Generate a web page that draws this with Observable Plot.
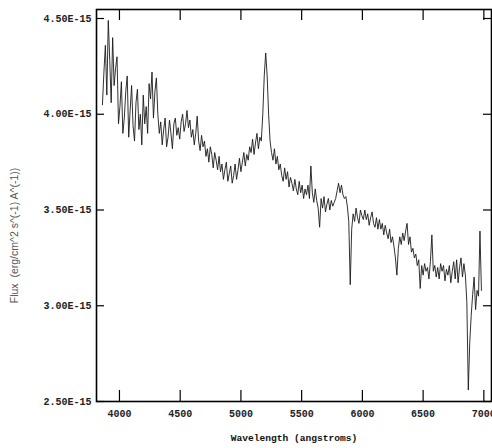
<!DOCTYPE html>
<html>
<head>
<meta charset="utf-8">
<script src="https://cdn.jsdelivr.net/npm/d3@7"></script>
<script src="https://cdn.jsdelivr.net/npm/@observablehq/plot@0.6"></script>
<style>
  html, body { margin: 0; padding: 0; background: #fff; }
  #chart { width: 492px; height: 448px; }
</style>
</head>
<body>
<div id="chart"></div>
<script>
// Sampling grid of the spectrum (start wavelength and step, angstroms)
const lambdaStart = 3860;
const lambdaStep = 12;

// Flux values in units of 1E-15 erg/cm^2/s/A
const flux = [
  4.05, 4.22, 4.36, 4.10, 4.49, 4.28, 4.06, 4.40, 4.15, 4.24,
  4.30, 3.95, 4.04, 4.17, 3.90, 3.98, 4.12, 4.20, 3.88, 4.02,
  4.15, 3.94, 3.86, 4.06, 4.13, 3.92, 4.00, 3.84, 4.10, 3.95,
  4.04, 3.90, 4.16, 4.08, 4.22, 3.98, 4.12, 4.19, 4.00, 3.90,
  3.96, 3.84, 3.92, 3.98, 3.83, 3.88, 3.97, 3.90, 3.82, 3.95,
  3.98, 3.89, 3.93, 3.87, 3.96, 4.00, 3.91, 3.95, 4.02, 3.93,
  3.97, 3.88, 3.92, 3.84, 3.90, 3.99, 3.86, 3.81, 3.89, 3.83,
  3.86, 3.78, 3.82, 3.75, 3.83, 3.79, 3.72, 3.80, 3.76, 3.71,
  3.78, 3.70, 3.74, 3.66, 3.71, 3.75, 3.65, 3.69, 3.73, 3.64,
  3.68, 3.74, 3.66, 3.71, 3.77, 3.70, 3.75, 3.80, 3.73, 3.79,
  3.76, 3.83, 3.80, 3.87, 3.79, 3.85, 3.90, 3.82, 3.88, 3.86,
  4.00, 4.20, 4.32, 4.20, 4.00, 3.86, 3.80, 3.76, 3.82, 3.74,
  3.78, 3.71, 3.74, 3.68, 3.65, 3.72, 3.66, 3.70, 3.62, 3.67,
  3.64, 3.60, 3.66, 3.61, 3.58, 3.65, 3.59, 3.63, 3.56, 3.61,
  3.58, 3.63, 3.56, 3.73, 3.59, 3.54, 3.61, 3.55, 3.51, 3.41,
  3.56, 3.51, 3.57, 3.49, 3.53, 3.56, 3.50, 3.55, 3.52, 3.54,
  3.56, 3.60, 3.64, 3.59, 3.63, 3.58, 3.56, 3.57, 3.52, 3.44,
  3.11, 3.40, 3.48, 3.44, 3.51, 3.46, 3.43, 3.50, 3.47, 3.45,
  3.50, 3.45, 3.48, 3.42, 3.46, 3.49, 3.43, 3.41, 3.46, 3.40,
  3.45, 3.40, 3.43, 3.37, 3.42, 3.38, 3.35, 3.40, 3.33, 3.36,
  3.31, 3.25, 3.16, 3.30, 3.36, 3.32, 3.38, 3.34, 3.39, 3.43,
  3.32, 3.36, 3.28, 3.30, 3.25, 3.27, 3.21, 3.24, 3.09, 3.21,
  3.16, 3.22, 3.18, 3.20, 3.14, 3.23, 3.37, 3.18, 3.21, 3.15,
  3.20, 3.14, 3.22, 3.18, 3.21, 3.13, 3.19, 3.16, 3.21, 3.12,
  3.18, 3.23, 3.14, 3.24, 3.12, 3.20, 3.25, 3.15, 3.22, 3.16,
  3.02, 2.56, 2.81, 2.95, 3.06, 3.15, 2.98, 3.08, 3.05, 3.39, 3.08
];

const xTicks = [4000, 4500, 5000, 5500, 6000, 6500, 7000];
const yTicks = [2.50, 3.00, 3.50, 4.00, 4.50];
const xLabel = "Wavelength (angstroms)";
const yLabel = "Flux  (erg/cm^2 s^(-1) A^(-1))";

const spectrum = flux.map((f, i) => ({lambda: lambdaStart + i * lambdaStep, flux: f}));

const W = 492, H = 448;
const mL = 96, mR = 1, mT = 9, mB = 47;
const frameW = W - mL - mR, frameH = H - mT - mB;
const tickFont = {fontFamily: "Liberation Mono", fontSize: 10, fontWeight: "bold"};

const chart = Plot.plot({
  width: W,
  height: H,
  marginLeft: mL,
  marginRight: mR,
  marginTop: mT,
  marginBottom: mB,
  style: {background: "#fff", color: "#000"},
  x: {domain: [3811, 7063]},
  y: {domain: [2.50, 4.547]},
  marks: [
    Plot.line(spectrum, {x: "lambda", y: "flux", stroke: "#1a1a1a", strokeWidth: 0.9}),
    // inward ticks on all four sides
    Plot.ruleX(xTicks, {x: d => d, insetTop: frameH - 11, stroke: "#000", strokeWidth: 1.2}),
    Plot.ruleX(xTicks, {x: d => d, insetBottom: frameH - 11, stroke: "#000", strokeWidth: 1.2}),
    Plot.ruleY(yTicks, {y: d => d, insetRight: frameW - 8, stroke: "#000", strokeWidth: 1.2}),
    Plot.ruleY(yTicks, {y: d => d, insetLeft: frameW - 8, stroke: "#000", strokeWidth: 1.2}),
    Plot.frame({stroke: "#000", strokeWidth: 1.6}),
    Plot.axisX(xTicks, {anchor: "bottom", tickSize: 0, tickPadding: 8, label: null,
      tickFormat: d => String(d), ...tickFont, fill: "#222"}),
    Plot.axisY(yTicks, {anchor: "left", tickSize: 0, tickPadding: 5, label: null,
      tickFormat: d => d.toFixed(2) + "E-15", ...tickFont, fill: "#222"}),
    Plot.text([xLabel], {text: d => d, frameAnchor: "bottom", dy: 39, textAnchor: "middle",
      fontFamily: "Liberation Mono", fontSize: 9.6, fontWeight: "bold", fill: "#111"}),
    Plot.text([yLabel], {text: d => d, frameAnchor: "left", dx: -82, dy: 30, rotate: -90,
      textAnchor: "middle", ariaLabel: "ylabel",
      fontFamily: "Liberation Sans", fontSize: 10.5, fill: "#555"})
  ]
});
d3.select(chart).selectAll("g[aria-label='ylabel'] text")
  .attr("letter-spacing", "0.9")
  .style("white-space", "pre");
document.getElementById("chart").appendChild(chart);
</script>
</body>
</html>
